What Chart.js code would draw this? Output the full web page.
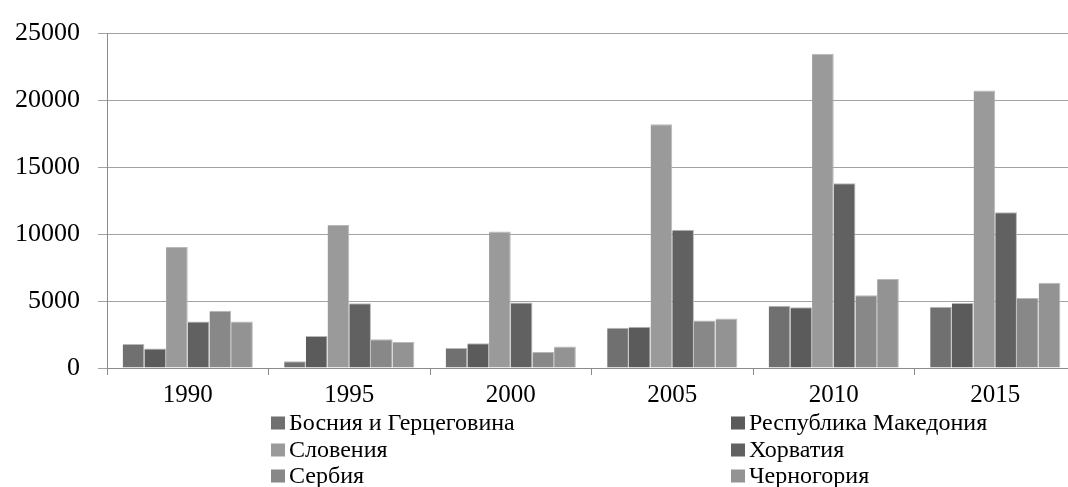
<!DOCTYPE html>
<html>
<head>
<meta charset="utf-8">
<script src="https://cdn.jsdelivr.net/npm/chart.js@4/dist/chart.umd.min.js"></script>
<style>
  html, body { margin: 0; padding: 0; background: #fff; overflow: hidden; }
  #wrap { width: 1076px; height: 487px; }
</style>
</head>
<body>
<div id="wrap"><canvas id="chart" width="1076" height="487"></canvas></div>
<script>
// years on the x axis
var years = ['1990', '1995', '2000', '2005', '2010', '2015'];

// series values
var bosnia     = [1800,  500, 1500,  3000,  4650,  4570];
var macedonia  = [1450, 2400, 1850,  3080,  4550,  4860];
var slovenia   = [9050, 10700, 10200, 18220, 23500, 20740];
var croatia    = [3480, 4850, 4900, 10340, 13820, 11640];
var serbia     = [4280, 2150, 1200,  3560,  5440,  5230];
var montenegro = [3480, 1950, 1600,  3700,  6650,  6370];

var seriesNames = ['Босния и Герцеговина', 'Республика Македония', 'Словения',
                   'Хорватия', 'Сербия', 'Черногория'];
var seriesColors = ['#707070', '#5b5b5b', '#9a9a9a', '#616161', '#888888', '#939393'];
var yTicks = [0, 5000, 10000, 15000, 20000, 25000];

var serif = '"Liberation Serif", "Times New Roman", serif';

// two-column legend under the axis
var gridLegend = {
    id: 'gridLegend',
    afterDraw: function (chart) {
        var ctx = chart.ctx;
        var colX = [271, 731];
        var rowY = [423, 450, 476];
        ctx.save();
        ctx.font = '24px ' + serif;
        ctx.textBaseline = 'middle';
        ctx.textAlign = 'left';
        chart.data.datasets.forEach(function (ds, i) {
            var x = colX[i % 2];
            var y = rowY[Math.floor(i / 2)];
            ctx.fillStyle = ds.backgroundColor;
            ctx.fillRect(x, y - 6.5, 14, 13);
            ctx.fillStyle = '#000';
            ctx.fillText(ds.label, x + 18, y + 1);
        });
        ctx.restore();
    }
};

var values = [bosnia, macedonia, slovenia, croatia, serbia, montenegro];
var datasets = values.map(function (arr, i) {
    return {
        label: seriesNames[i],
        data: arr,
        backgroundColor: seriesColors[i],
        borderColor: '#b8b8b8',
        borderWidth: { top: 1, right: 1, left: 0, bottom: 0 },
        borderSkipped: 'bottom',
        categoryPercentage: 0.806,
        barPercentage: 1
    };
});

new Chart(document.getElementById('chart').getContext('2d'), {
    type: 'bar',
    data: { labels: years, datasets: datasets },
    options: {
        responsive: false,
        animation: false,
        layout: { padding: { top: 23, right: 0, left: 0, bottom: 0 } },
        plugins: {
            legend: { display: false },
            tooltip: { enabled: false }
        },
        scales: {
            x: {
                grid: {
                    display: true,
                    drawOnChartArea: false,
                    offset: true,
                    tickLength: 7,
                    color: '#8c8c8c'
                },
                border: { color: '#8c8c8c' },
                ticks: {
                    padding: 5,
                    color: '#000',
                    font: { family: serif, size: 25 }
                },
                afterFit: function (scale) { scale.height = 119; }
            },
            y: {
                min: 0,
                max: 25000,
                afterBuildTicks: function (scale) {
                    scale.ticks = yTicks.map(function (v) { return { value: v }; });
                },
                grid: { color: '#a3a3a3', tickLength: 9 },
                border: { color: '#8c8c8c' },
                ticks: {
                    padding: 18,
                    color: '#000',
                    font: { family: serif, size: 26 },
                    callback: function (v) { return String(v); }
                },
                afterFit: function (scale) { scale.width = 107; }
            }
        }
    },
    plugins: [gridLegend]
});
</script>
</body>
</html>
